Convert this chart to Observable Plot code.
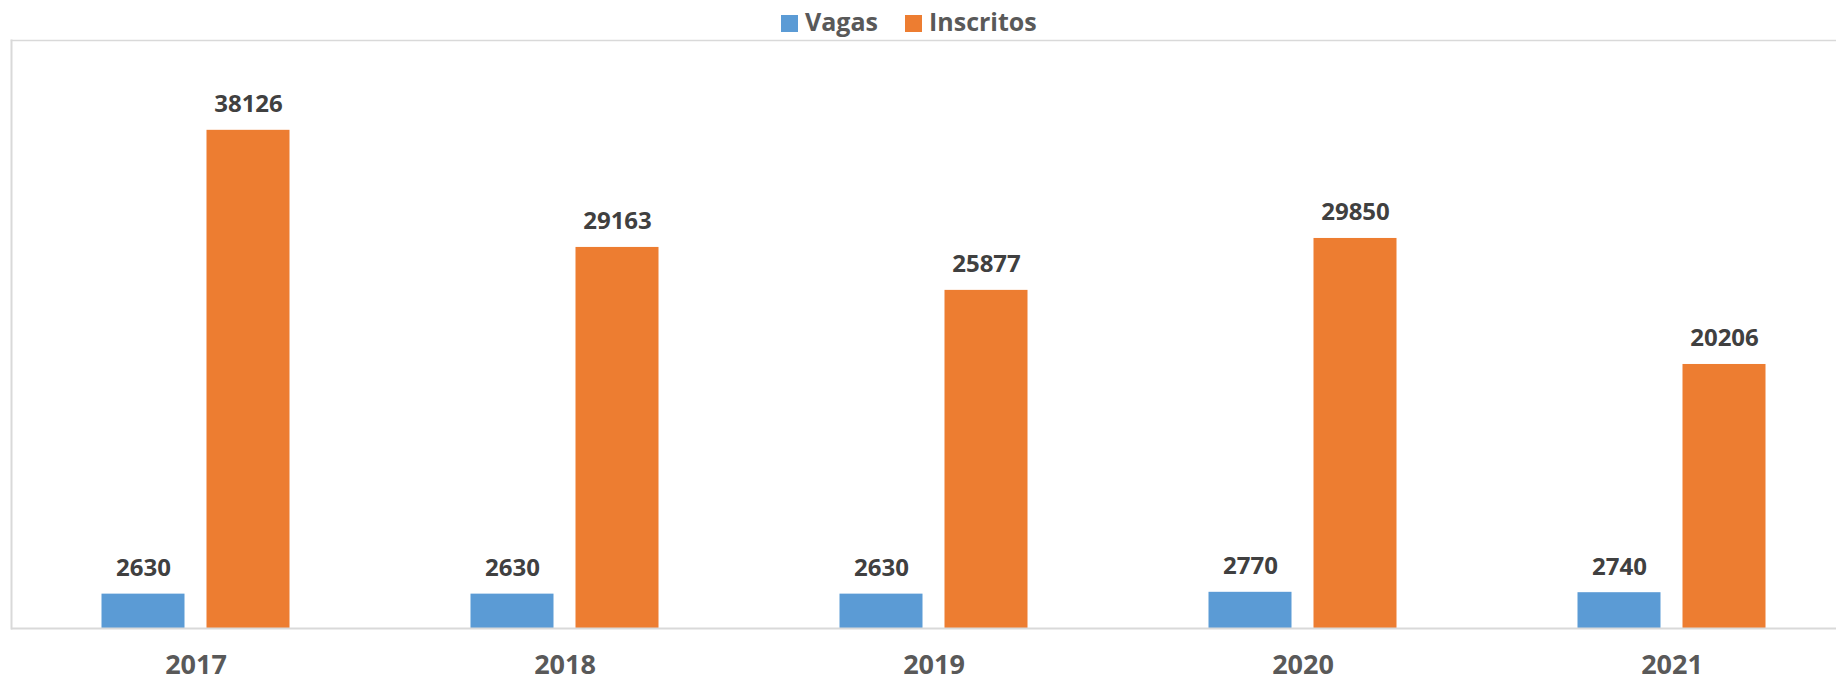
<!DOCTYPE html>
<html>
<head>
<meta charset="utf-8">
<script src="https://cdn.jsdelivr.net/npm/d3@7"></script>
<script src="https://cdn.jsdelivr.net/npm/@observablehq/plot@0.6"></script>
<style>
  html, body { margin: 0; padding: 0; background: #fff; overflow: hidden; width: 1836px; height: 681px; }
  body { font-family: "Open Sans", sans-serif; }
  #legend { position: relative; height: 38px; }
  .item { position: absolute; top: 6px; font-size: 25px; font-weight: bold; color: #595959; line-height: 30px; white-space: nowrap; }
  .sw { display: inline-block; width: 17px; height: 17px; margin-right: 7px; vertical-align: -1px; }
  #chart { width: 1856px; }
  #chart svg { display: block; overflow: visible; max-width: none !important; }
</style>
</head>
<body>
<div id="legend"></div>
<div id="chart"></div>
<script>
const years = ["2017", "2018", "2019", "2020", "2021"];
const vagas = [2630, 2630, 2630, 2770, 2740];
const inscritos = [38126, 29163, 25877, 29850, 20206];
const seriesNames = ["Vagas", "Inscritos"];
const seriesColors = ["#5B9BD5", "#ED7D31"];

const vagasData = years.map((y, i) => ({year: y, value: vagas[i]}));
const inscritosData = years.map((y, i) => ({year: y, value: inscritos[i]}));

// legend
const legend = document.getElementById("legend");
const legendLefts = [781, 905];
seriesNames.forEach((name, i) => {
  const el = document.createElement("div");
  el.className = "item";
  el.style.left = legendLefts[i] + "px";
  el.innerHTML = `<span class="sw" style="background:${seriesColors[i]}"></span>${name}`;
  legend.appendChild(el);
});

const offset = 52.5;
const labelStyle = {fontSize: 24, fontWeight: "bold", fill: "#404040", lineAnchor: "bottom", dy: -18};

const chart = Plot.plot({
  width: 1856,
  height: 643,
  marginTop: 2,
  marginBottom: 53,
  marginLeft: 11,
  marginRight: 0,
  style: {fontFamily: "Open Sans, sans-serif", background: "transparent", maxWidth: "none"},
  x: {type: "band", domain: years, paddingInner: 0.7764, paddingOuter: 0.3882, axis: null},
  y: {domain: [0, 45000], axis: null},
  marks: [
    Plot.frame({anchor: "top", stroke: "#D9D9D9", strokeWidth: 1.5, strokeOpacity: 1}),
    Plot.frame({anchor: "left", stroke: "#D9D9D9", strokeWidth: 2, strokeOpacity: 1}),
    Plot.barY(vagasData, {x: "year", y: "value", fill: seriesColors[0], dx: -offset}),
    Plot.barY(inscritosData, {x: "year", y: "value", fill: seriesColors[1], dx: offset}),
    Plot.ruleY([0], {stroke: "#D9D9D9", strokeWidth: 2}),
    Plot.text(vagasData, {x: "year", y: "value", text: d => String(d.value), dx: -offset, ...labelStyle}),
    Plot.text(inscritosData, {x: "year", y: "value", text: d => String(d.value), dx: offset, ...labelStyle}),
    Plot.axisX({tickSize: 0, tickPadding: 26, fontSize: 27, fontWeight: "bold", color: "#595959", label: null})
  ]
});
document.getElementById("chart").appendChild(chart);
</script>
</body>
</html>
